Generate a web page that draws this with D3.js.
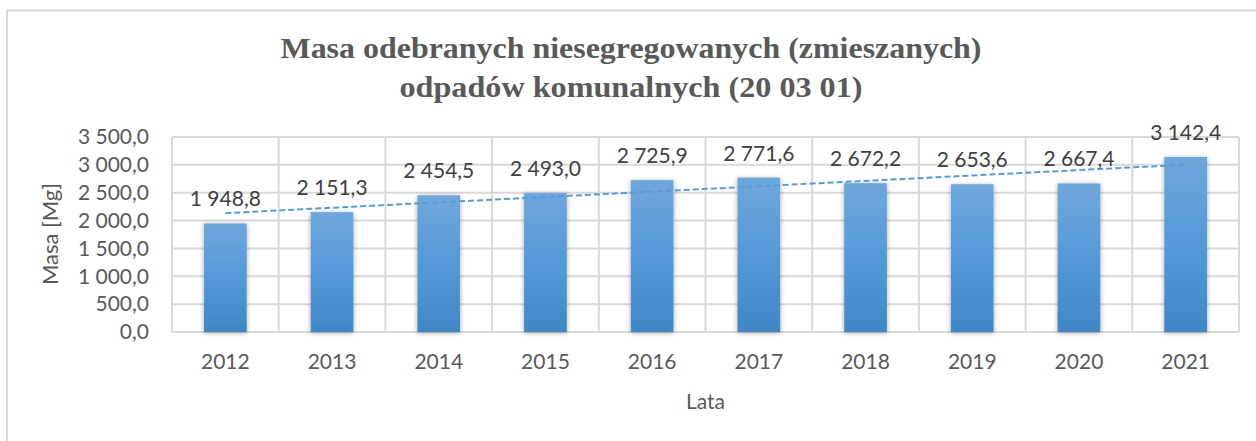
<!DOCTYPE html>
<html>
<head>
<meta charset="utf-8">
<script src="https://cdn.jsdelivr.net/npm/d3@7"></script>
<style>
    body { margin: 0; background: #fff; }
    .axis text { font-family: Lato, "Open Sans", sans-serif; font-size: 21px; fill: #595959; }
    .label { font-family: Lato, "Open Sans", sans-serif; font-size: 21px; fill: #595959; }
    .value { font-family: Lato, "Open Sans", sans-serif; font-size: 21px; fill: #404040; text-anchor: middle; }
    .title { font-family: "Liberation Serif", "Times New Roman", serif; font-weight: bold; font-size: 30px; fill: #595959; text-anchor: middle; }
</style>
</head>
<body>
<div id="chart"></div>
<script>
const years = ["2012", "2013", "2014", "2015", "2016", "2017", "2018", "2019", "2020", "2021"];
const masses = [1948.8, 2151.3, 2454.5, 2493.0, 2725.9, 2771.6, 2672.2, 2653.6, 2667.4, 3142.4];
const yTicks = [0, 500, 1000, 1500, 2000, 2500, 3000, 3500];
const titleLines = ["Masa odebranych niesegregowanych (zmieszanych)", "odpadów komunalnych (20 03 01)"];

const W = 1256, H = 441;
const margin = {top: 137, right: 17, bottom: 109, left: 172};
const width = W - margin.left - margin.right;
const height = H - margin.top - margin.bottom;

const svg = d3.select("#chart").append("svg")
    .attr("width", W)
    .attr("height", H);

// outer chart frame
svg.append("rect")
    .attr("x", 7).attr("y", 10.5)
    .attr("width", W + 20).attr("height", H + 20)
    .attr("fill", "none")
    .attr("stroke", "#d9d9d9")
    .attr("stroke-width", 2);

const defs = svg.append("defs");
const grad = defs.append("linearGradient")
    .attr("id", "barGrad")
    .attr("x1", 0).attr("y1", 0).attr("x2", 0).attr("y2", 1);
grad.append("stop").attr("offset", "0%").attr("stop-color", "#6fa7dc");
grad.append("stop").attr("offset", "50%").attr("stop-color", "#5599d8");
grad.append("stop").attr("offset", "100%").attr("stop-color", "#4086c6");

const shadow = defs.append("filter").attr("id", "shadow")
    .attr("x", "-30%").attr("y", "-10%").attr("width", "160%").attr("height", "130%");
shadow.append("feDropShadow")
    .attr("dx", 0).attr("dy", 1).attr("stdDeviation", 2.5)
    .attr("flood-color", "#000").attr("flood-opacity", 0.35);

const g = svg.append("g")
    .attr("transform", `translate(${margin.left}, ${margin.top})`);

// Scales
const x = d3.scaleBand().domain(years).range([0, width]).padding(0);
const y = d3.scaleLinear().domain([0, 3500]).range([height, 0]);
const barW = x.bandwidth() * 0.4;

// Gridlines
g.selectAll(".hgrid")
    .data(yTicks)
    .join("line")
    .attr("class", "hgrid")
    .attr("x1", 0).attr("x2", width)
    .attr("y1", d => y(d)).attr("y2", d => y(d))
    .attr("stroke", "#d9d9d9").attr("stroke-width", 2);

g.selectAll(".vgrid")
    .data(years.concat(["end"]))
    .join("line")
    .attr("class", "vgrid")
    .attr("x1", (d, i) => i * x.step()).attr("x2", (d, i) => i * x.step())
    .attr("y1", 0).attr("y2", height)
    .attr("stroke", "#d9d9d9").attr("stroke-width", 2);

// Bars
g.selectAll(".bar")
    .data(masses)
    .join("rect")
    .attr("class", "bar")
    .attr("x", (d, i) => x(years[i]) + (x.bandwidth() - barW) / 2)
    .attr("y", d => y(d))
    .attr("width", barW)
    .attr("height", d => y(0) - y(d))
    .attr("fill", "url(#barGrad)")
    .attr("filter", "url(#shadow)");

// Linear trend line
const n = masses.length;
const xs = d3.range(1, n + 1);
const mx = d3.mean(xs), my = d3.mean(masses);
const slope = d3.sum(xs, (v, i) => (v - mx) * (masses[i] - my)) / d3.sum(xs, v => (v - mx) ** 2);
const icpt = my - slope * mx;
const cx = i => x(years[i]) + x.bandwidth() / 2;

g.append("line")
    .attr("x1", cx(0)).attr("y1", y(icpt + slope * 1))
    .attr("x2", cx(n - 1)).attr("y2", y(icpt + slope * n))
    .attr("stroke", "#5b9bd5")
    .attr("stroke-width", 2)
    .attr("stroke-dasharray", "6,3");

const fmt = d => d3.format(",.1f")(d).replace(/,/g, " ").replace(".", ",");

// Data labels
g.selectAll(".value")
    .data(masses)
    .join("text")
    .attr("class", "value")
    .attr("x", (d, i) => cx(i))
    .attr("y", d => y(d) - 17)
    .text(fmt);

// Axes
const yAxis = d3.axisLeft(y)
    .tickValues(yTicks)
    .tickSize(0)
    .tickPadding(23)
    .tickFormat(fmt);
g.append("g").attr("class", "axis").call(yAxis)
    .call(a => a.select(".domain").remove());

const xAxis = d3.axisBottom(x).tickSize(0).tickPadding(22);
g.append("g").attr("class", "axis")
    .attr("transform", `translate(0, ${height})`)
    .call(xAxis)
    .call(a => a.select(".domain").remove());

// Axis titles
svg.append("text")
    .attr("class", "label")
    .attr("x", margin.left + width / 2)
    .attr("y", 409)
    .attr("text-anchor", "middle")
    .text("Lata");

svg.append("text")
    .attr("class", "label")
    .attr("transform", "rotate(-90)")
    .attr("x", -234)
    .attr("y", 58)
    .attr("text-anchor", "middle")
    .style("font-size", "22px")
    .text("Masa [Mg]");

// Title
const titleWidths = [701, 463];
svg.selectAll(".title")
    .data(titleLines)
    .join("text")
    .attr("class", "title")
    .attr("x", 631)
    .attr("y", (d, i) => 58 + i * 39)
    .attr("textLength", (d, i) => titleWidths[i])
    .attr("lengthAdjust", "spacingAndGlyphs")
    .text(d => d);
</script>
</body>
</html>
